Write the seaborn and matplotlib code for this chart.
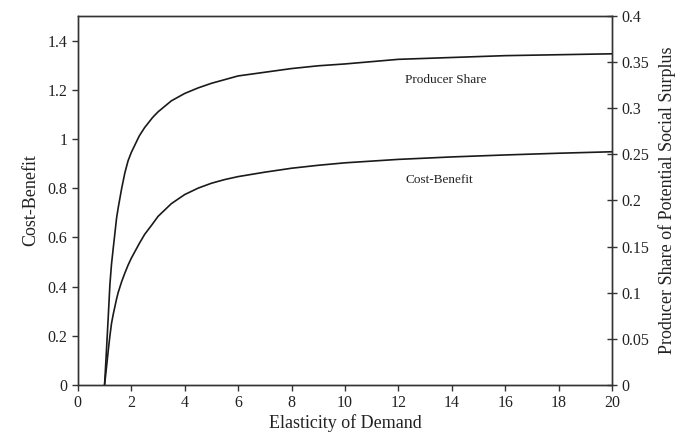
import pandas as pd
import seaborn as sns
import matplotlib.pyplot as plt

# values
elasticity = [1, 1.07, 1.14, 1.2, 1.26, 1.32, 1.45, 1.51, 1.64, 1.76, 1.88, 2, 2.3, 2.5,
              2.8, 3, 3.5, 4, 4.5, 5, 5.5, 6, 7, 8, 9, 10, 12, 14, 16, 18, 20]
cost_benefit = [0, 0.07, 0.142, 0.2, 0.25, 0.285, 0.35, 0.376, 0.42, 0.455, 0.487, 0.515,
                0.575, 0.612, 0.655, 0.685, 0.737, 0.774, 0.80, 0.82, 0.835, 0.847, 0.865,
                0.881, 0.893, 0.903, 0.917, 0.927, 0.935, 0.942, 0.948]
producer_share = [0, 0.037, 0.075, 0.109, 0.131, 0.147, 0.181, 0.192, 0.213, 0.230, 0.243,
                  0.252, 0.270, 0.279, 0.290, 0.296, 0.308, 0.316, 0.322, 0.327, 0.331,
                  0.335, 0.339, 0.343, 0.346, 0.348, 0.353, 0.355, 0.357, 0.358, 0.359]

df = pd.DataFrame({'Elasticity': elasticity, 'CB': cost_benefit, 'PS': producer_share})

sns.set_style('ticks')
plt.rcParams['font.family'] = ['Liberation Serif', 'DejaVu Serif']
txt = '#222222'

fig = plt.figure(figsize=(6.83, 4.44), dpi=100)
ax = fig.add_axes([0.114, 0.133, 0.782, 0.831])
ax2 = ax.twinx()

sns.lineplot(data=df, x='Elasticity', y='CB', ax=ax, color='#1a1a1a', linewidth=1.2)
sns.lineplot(data=df, x='Elasticity', y='PS', ax=ax2, color='#1a1a1a', linewidth=1.2)

ax.set_xlim(0, 20)
ax.set_ylim(0, 1.5)
ax2.set_ylim(0, 0.4)
ax.set_xticks(range(0, 21, 2))
ax.set_yticks([0, 0.2, 0.4, 0.6, 0.8, 1, 1.2, 1.4])
ax.set_yticklabels(['0', '0.2', '0.4', '0.6', '0.8', '1', '1.2', '1.4'])
ax2.set_yticks([0, 0.05, 0.1, 0.15, 0.2, 0.25, 0.3, 0.35, 0.4])
ax2.set_yticklabels(['0', '0.05', '0.1', '0.15', '0.2', '0.25', '0.3', '0.35', '0.4'])

ax.set_xlabel('Elasticity of Demand', fontsize=13, color=txt, labelpad=2)
ax.set_ylabel('Cost-Benefit', fontsize=13, color=txt, labelpad=6)
ax2.set_ylabel('Producer Share of Potential Social Surplus', fontsize=13, color=txt, labelpad=6)

for a in (ax, ax2):
    for s in a.spines.values():
        s.set_color('#333333')
        s.set_linewidth(1.0)
    a.tick_params(labelsize=11.5, colors='#333333', labelcolor=txt, length=4, width=1)
ax2.tick_params(axis='y', direction='inout', length=7)

ax.text(13.79, 1.24, 'Producer Share', fontsize=9.5, color=txt, ha='center', va='center')
ax.text(13.55, 0.835, 'Cost-Benefit', fontsize=9.5, color=txt, ha='center', va='center')

fig.savefig('out.png', dpi=100)
